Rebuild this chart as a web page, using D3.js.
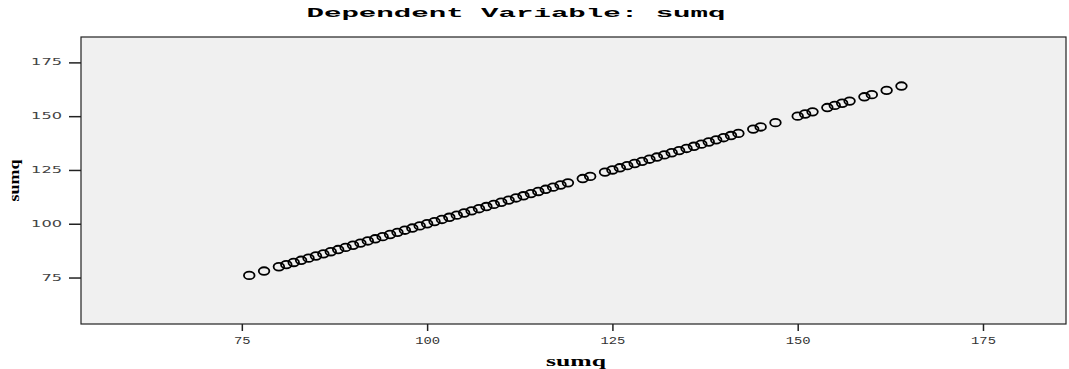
<!DOCTYPE html>
<html>
<head>
<meta charset="utf-8">
<script src="https://cdn.jsdelivr.net/npm/d3@7"></script>
<style>
  body { margin: 0; background: #fff; }
  svg { display: block; }
</style>
</head>
<body>
<div id="chart"></div>
<script>
// observed sumq (x) against itself as dependent variable (y)
const sumqObserved = [76, 78, 80, 81, 82, 83, 84, 85, 86, 87, 88, 89, 90, 91, 92, 93, 94, 95, 96, 97, 98, 99,
  100, 101, 102, 103, 104, 105, 106, 107, 108, 109, 110, 111, 112, 113, 114, 115, 116, 117, 118, 119,
  121, 122, 124, 125, 126, 127, 128, 129, 130, 131, 132, 133, 134, 135, 136, 137, 138, 139, 140, 141, 142,
  144, 145, 147, 150, 151, 152, 154, 155, 156, 157, 159, 160, 162, 164];
const sumqDependent = [76, 78, 80, 81, 82, 83, 84, 85, 86, 87, 88, 89, 90, 91, 92, 93, 94, 95, 96, 97, 98, 99,
  100, 101, 102, 103, 104, 105, 106, 107, 108, 109, 110, 111, 112, 113, 114, 115, 116, 117, 118, 119,
  121, 122, 124, 125, 126, 127, 128, 129, 130, 131, 132, 133, 134, 135, 136, 137, 138, 139, 140, 141, 142,
  144, 145, 147, 150, 151, 152, 154, 155, 156, 157, 159, 160, 162, 164];
const xTicks = [75, 100, 125, 150, 175];
const yTicks = [75, 100, 125, 150, 175];
const chartTitle = 'Dependent Variable: sumq';
const xTitle = 'sumq';
const yTitle = 'sumq';

const width = 1069, height = 369;
const box = { left: 81, right: 1066, top: 37, bottom: 324 };

const svg = d3.select('#chart')
  .append('svg')
  .attr('width', width)
  .attr('height', height);

const x = d3.scaleLinear().domain([53.3, 186.2]).range([box.left, box.right]);
const y = d3.scaleLinear().domain([53.4, 186.8]).range([box.bottom, box.top]);

// plot area
svg.append('rect')
  .attr('x', box.left)
  .attr('y', box.top)
  .attr('width', box.right - box.left)
  .attr('height', box.bottom - box.top)
  .attr('fill', '#f0f0f0')
  .attr('stroke', '#222')
  .attr('stroke-width', 1.2);

// axes
const xAxis = svg.append('g')
  .attr('transform', `translate(0,${box.bottom})`)
  .call(d3.axisBottom(x).tickValues(xTicks).tickSize(7).tickSizeOuter(0));
xAxis.select('.domain').remove();
xAxis.selectAll('line').attr('stroke', '#222').attr('stroke-width', 1.5);
xAxis.selectAll('text')
  .attr('y', 13)
  .attr('dy', '0.71em')
  .style('font-family', '"Liberation Mono", monospace')
  .style('font-size', '10px')
  .attr('fill', '#333')
  .attr('textLength', d => String(d).length * 8.3)
  .attr('lengthAdjust', 'spacingAndGlyphs');

const yAxis = svg.append('g')
  .attr('transform', `translate(${box.left},0)`)
  .call(d3.axisLeft(y).tickValues(yTicks).tickSize(12).tickSizeOuter(0));
yAxis.select('.domain').remove();
yAxis.selectAll('line').attr('stroke', '#222').attr('stroke-width', 1.5);
yAxis.selectAll('text')
  .attr('x', -19)
  .style('font-family', '"DejaVu Sans", sans-serif')
  .style('font-size', '8px')
  .attr('fill', '#444')
  .attr('textLength', d => String(d).length * 10.3)
  .attr('lengthAdjust', 'spacingAndGlyphs');

// points
svg.append('g')
  .selectAll('ellipse')
  .data(sumqObserved.map((v, i) => ({ x: v, y: sumqDependent[i] })))
  .join('ellipse')
  .attr('cx', d => x(d.x))
  .attr('cy', d => y(d.y))
  .attr('rx', 5.3)
  .attr('ry', 3.8)
  .attr('fill', 'none')
  .attr('stroke', '#000')
  .attr('stroke-width', 1.8);

// titles
svg.append('text')
  .text(chartTitle)
  .attr('x', 516)
  .attr('y', 17)
  .attr('text-anchor', 'middle')
  .style('font-family', '"Liberation Mono", monospace')
  .style('font-weight', 'bold')
  .style('font-size', '13px')
  .attr('textLength', 419)
  .attr('lengthAdjust', 'spacingAndGlyphs');

svg.append('text')
  .text(xTitle)
  .attr('x', 576)
  .attr('y', 366)
  .attr('text-anchor', 'middle')
  .style('font-family', '"Liberation Serif", serif')
  .style('font-weight', 'bold')
  .style('font-size', '14px')
  .attr('textLength', 60)
  .attr('lengthAdjust', 'spacingAndGlyphs');

svg.append('text')
  .text(yTitle)
  .attr('transform', `translate(19,${(box.top + box.bottom) / 2}) rotate(-90)`)
  .attr('text-anchor', 'middle')
  .style('font-family', '"Liberation Serif", serif')
  .style('font-weight', 'bold')
  .style('font-size', '14px')
  .attr('textLength', 42)
  .attr('lengthAdjust', 'spacingAndGlyphs');
</script>
</body>
</html>
